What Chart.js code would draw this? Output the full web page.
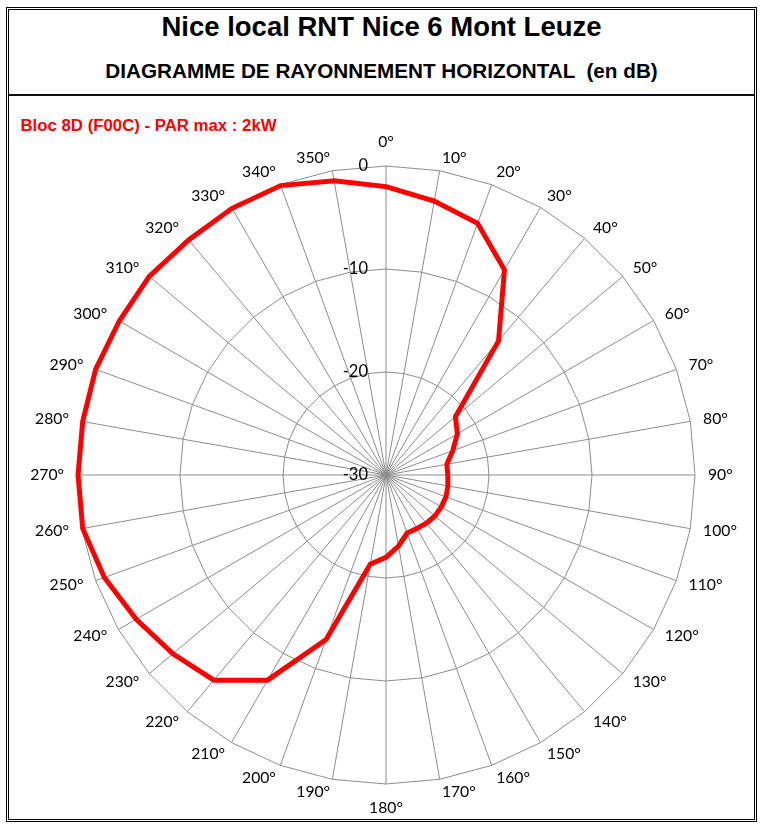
<!DOCTYPE html>
<html>
<head>
<meta charset="utf-8">
<script src="https://cdn.jsdelivr.net/npm/chart.js@4.4.1/dist/chart.umd.min.js"></script>
<style>
  html, body { margin:0; padding:0; background:#fff; }
  #page { position:relative; width:762px; height:826px; overflow:hidden; background:#fff; }
  .frame { position:absolute; border:1px solid #000; box-sizing:border-box; }
  #outer { left:6px; top:7px; width:751px; height:815px; }
  #inner { left:8px; top:9px; width:747px; height:811px; }
  #sep { position:absolute; left:9px; top:94px; width:745px; height:2px; background:#111; }
  .txt { position:absolute; white-space:pre; font-family:"Liberation Sans", Arial, sans-serif; font-weight:bold; color:#000; }
  #title { left:8px; width:747px; text-align:center; top:12.7px; font-size:27.5px; line-height:27.5px; }
  #subtitle { left:8px; width:747px; text-align:center; top:61.4px; font-size:20.7px; line-height:20.7px; }
  #series { left:20.5px; top:118.1px; font-size:16.8px; line-height:16.8px; color:#ff0000; }
  #chart { position:absolute; left:0; top:0; }
</style>
</head>
<body>
<div id="page">
  <div id="outer" class="frame"></div>
  <div id="inner" class="frame"></div>
  <div id="sep"></div>
  <div id="title" class="txt"></div>
  <div id="subtitle" class="txt"></div>
  <div id="series" class="txt"></div>
  <canvas id="chart" width="762" height="826"></canvas>
</div>
<script>
// ---- data ----
const titleText = 'Nice local RNT Nice 6 Mont Leuze';
const subtitleText = 'DIAGRAMME DE RAYONNEMENT HORIZONTAL  (en dB)';
const seriesName = 'Bloc 8D (F00C) - PAR max : 2kW';

const angleLabels = ['0°','10°','20°','30°','40°','50°','60°','70°','80°','90°',
  '100°','110°','120°','130°','140°','150°','160°','170°','180°','190°',
  '200°','210°','220°','230°','240°','250°','260°','270°','280°','290°',
  '300°','310°','320°','330°','340°','350°'];

const gainDb = [-2.0, -3.0, -4.0, -7.0, -13.0, -21.2, -22.0, -23.1, -24.0, -24.0,
  -23.9, -23.8, -23.8, -23.8, -23.9, -24.0, -24.0, -23.0, -22.0, -21.2,
  -13.0, -7.0, -4.0, -3.0, -2.0, -0.9, -0.1, -0.1, -0.1, 0.0,
  -0.1, 0.0, -0.2, -0.1, -0.1, -1.0];

const tickValues = [-30, -20, -10, 0];
const tickLabels = ['-30', '-20', '-10', '0'];

document.getElementById('title').textContent = titleText;
document.getElementById('subtitle').textContent = subtitleText;
document.getElementById('series').textContent = seriesName;

// labels drawn Excel-style from the library's own scale geometry
const excelLabels = {
  id: 'excelLabels',
  afterDatasetsDraw(chart) {
    const s = chart.scales.r;
    const ctx = chart.ctx;
    const R = s.getDistanceFromCenterForValue(s.max);
    ctx.save();
    ctx.fillStyle = '#000';
    ctx.font = '15.7px Lato, "Open Sans", sans-serif';
    ctx.textBaseline = 'middle';
    angleLabels.forEach((txt, i) => {
      const p = s.getPointPosition(i, R + 13);
      let deg = Math.round(s.getIndexAngle(i) * 180 / Math.PI) % 360;
      let y = p.y;
      if (deg === 0) { ctx.textAlign = 'center'; y -= 11; }
      else if (deg === 180) { ctx.textAlign = 'center'; y += 11; }
      else if (deg < 180) { ctx.textAlign = 'left'; }
      else { ctx.textAlign = 'right'; }
      ctx.fillText(txt, p.x, y);
    });
    ctx.font = '16.5px Lato, "Open Sans", sans-serif';
    ctx.textAlign = 'right';
    s.ticks.forEach((t) => {
      const k = tickValues.indexOf(t.value);
      if (k < 0) return;
      const y = s.yCenter - s.getDistanceFromCenterForValue(t.value);
      ctx.fillText(tickLabels[k], s.xCenter - 18, y);
    });
    ctx.restore();
  }
};

new Chart(document.getElementById('chart'), {
  type: 'radar',
  data: {
    labels: angleLabels,
    datasets: [{
      label: seriesName,
      data: gainDb,
      borderColor: '#ff0000',
      backgroundColor: 'rgba(0,0,0,0)',
      borderWidth: 5,
      pointRadius: 0,
      pointHoverRadius: 0,
      fill: false,
      tension: 0
    }]
  },
  options: {
    responsive: false,
    animation: false,
    layout: { padding: { left: 77, right: 67, top: 166, bottom: 42 } },
    plugins: { legend: { display: false }, tooltip: { enabled: false }, title: { display: false } },
    scales: {
      r: {
        min: -30,
        max: 0,
        ticks: { display: false, stepSize: 10 },
        pointLabels: { display: false },
        grid: { color: '#8c8c8c', lineWidth: 1, circular: false },
        angleLines: { color: '#8c8c8c', lineWidth: 1 }
      }
    }
  },
  plugins: [excelLabels]
});
</script>
</body>
</html>
